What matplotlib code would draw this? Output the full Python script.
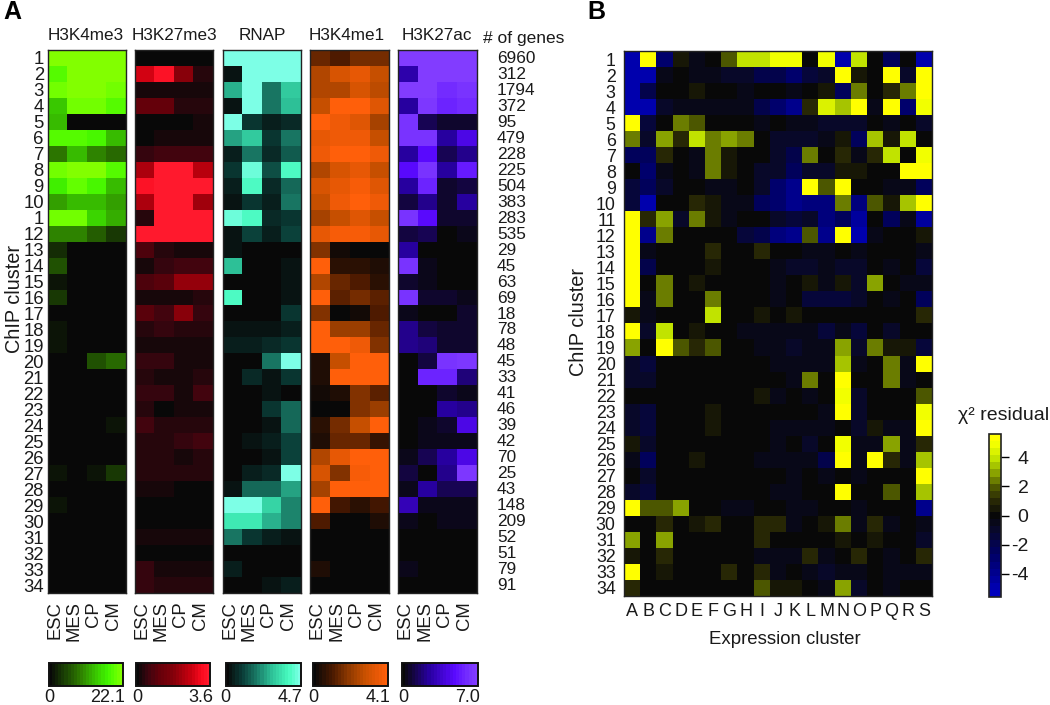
"""Histone mark heatmaps per ChIP cluster and chi-square residuals vs expression cluster."""
import numpy as np
import matplotlib
matplotlib.use('Agg')
import matplotlib.pyplot as plt
from matplotlib.colors import LinearSegmentedColormap

plt.rcParams['font.family'] = ['Liberation Sans', 'DejaVu Sans']

W, H = 1050, 705

stages = ['ESC', 'MES', 'CP', 'CM']
marks = ['H3K4me3', 'H3K27me3', 'RNAP', 'H3K4me1', 'H3K27ac']
mark_max = [22.1, 3.6, 4.7, 4.1, 7.0]
mark_max_labels = ['22.1', '3.6', '4.7', '4.1', '7.0']

# the reference really prints "1" on the 11th row of panel A
row_labels_a = [str(i) for i in range(1, 35)]
row_labels_a[10] = '1'
row_labels_b = [str(i) for i in range(1, 35)]
expr_labels = list('ABCDEFGHIJKLMNOPQRS')

n_genes = [6960, 312, 1794, 372, 95, 479, 228, 225, 504, 383, 283, 535, 29, 45, 63, 69, 18,
           78, 48, 45, 33, 41, 46, 39, 42, 70, 25, 43, 148, 209, 52, 51, 79, 91]

h3k4me3 = [
    [10, 10, 10, 10], [8.5, 10, 10, 10], [9.5, 10, 10, 9.5], [6.5, 9.5, 9.5, 8.5],
    [6, .3, .3, .1], [8.5, 8.5, 8, 6], [4, 6, 4.5, 3.5], [9.5, 10, 10, 8.5],
    [7.5, 9, 8, 6], [5, 6, 6, 5], [9.5, 9.5, 7, 5.5], [4.5, 4.5, 3, 2],
    [1.3, 0, 0, 0], [2.5, 0, 0, 0], [.5, 0, 0, 0], [2, 0, 0, 0],
    [.2, 0, 0, 0], [.7, 0, 0, 0], [.6, 0, 0, 0], [0, 0, 2.5, 3.5],
    [0, .2, .2, .2], [0, 0, 0, 0], [0, 0, 0, .2], [0, 0, 0, .5],
    [0, 0, 0, 0], [.3, 0, .4, .4], [.5, 0, .5, 2], [0, 0, .2, .2],
    [.5, 0, 0, 0], [0, 0, 0, 0], [0, 0, 0, 0], [0, 0, 0, 0],
    [.2, 0, 0, 0], [0, 0, 0, 0]]
h3k27me3 = [
    [.4, .4, .4, .4], [7.5, 9.5, 5, 1.2], [.5, .7, .5, .7], [3, 3, 1.2, 1.2],
    [.3, .3, .3, .5], [.4, .7, .7, .7], [1.5, 2, 2, 2], [6.5, 10, 10, 7],
    [9.5, 10, 10, 10], [6.5, 10, 10, 6], [1.2, 10, 10, 10], [10, 10, 10, 10],
    [2.2, 1.2, .6, .6], [.6, 1.5, 2, 2], [2.2, 2.8, 5.5, 5.5], [.6, .6, .6, .9],
    [2.7, 2, 5, 1.5], [1, 1.3, 1, 1], [.6, .6, .5, .8], [1.5, 1.3, .6, .5],
    [1.2, .6, .6, 1], [1.5, 1.5, .8, 1.8], [1.2, .4, .8, .8], [1.7, .9, .9, .9],
    [1.1, .9, 1.4, 1.8], [1.1, .9, .6, .9], [1.1, 1.1, .9, .9], [.6, .6, .4, .4],
    [.4, .4, .4, .4], [.4, .4, .4, .4], [.8, .6, .6, .6], [0, 0, 0, 0],
    [1.6, .8, .8, .8], [1.4, 1.1, .9, 1.1]]
rnap = [
    [10, 10, 10, 10], [.8, 10, 10, 10], [5.5, 10, 4, 6.5], [.8, 10, 4, 6],
    [10, 2, 1, 1.5], [5, 6.5, 2, 4], [1, 4, 1.5, 3], [2, 9.5, 2.5, 8.5],
    [1, 8.5, 1.5, 3.5], [.6, 2, 1.2, 4], [9.5, 8.5, 1.5, 2], [.6, 2.2, 1, 2.2],
    [.8, .2, .3, .1], [6, .3, .4, .5], [.2, .4, .4, .7], [8.5, .2, .4, .6],
    [.2, .4, .4, 2], [.6, .6, .6, .9], [1, 1, 1.6, 2], [0, .2, 4, 10],
    [0, 1.5, .8, 2], [0, .2, .7, .3], [0, .2, 1.8, 3.5], [0, .2, .5, 3.5],
    [0, .7, 1, 2.2], [.2, .2, .8, 2.2], [.2, .9, 1.5, 10], [.7, 3.5, 3.5, 5],
    [10, 10, 7, 4.5], [7.5, 7.5, 5.5, 4.2], [3.8, 1.8, 1, .5], [0, 0, 0, .2],
    [1, .2, .4, .4], [0, .2, .5, 1]]
h3k4me1 = [
    [3.5, 2.5, 4, 3.8], [6, 7.5, 8.5, 7], [6, 6, 7.5, 6.5], [7, 10, 10, 8],
    [10, 9, 8, 5.5], [8.5, 9, 9, 7], [9, 10, 10, 9], [6, 7.5, 8.5, 7],
    [7.5, 8.5, 9.5, 8], [7, 9, 10, 9], [5.5, 7, 8, 7], [8.5, 9.5, 9.5, 8.5],
    [4.5, .5, .3, .2], [10, 1.5, 1.5, .9], [6, 3.5, 2.5, 1.4], [10, 3, 4, 3],
    [4.5, .2, .7, 2.5], [10, 5, 5, 3.5], [10, 10, 9, 4.5], [1, 7, 10, 10],
    [1, 10, 10, 10], [.8, 1, 4.5, 3], [.2, .2, 4.5, 5], [1.5, 4, 7, 10],
    [1, 3.5, 3.5, 2], [6, 8.5, 10, 10], [7.5, 4.5, 9.5, 10], [5.5, 10, 10, 10],
    [10, 2.2, 1.5, 2.2], [2.5, .3, .4, 1], [.3, 0, 0, 0], [0, 0, 0, 0],
    [1.2, 0, 0, 0], [.3, .1, .2, .2]]
h3k27ac = [
    [10, 10, 10, 10], [4, 10, 10, 10], [10, 10, 8.5, 9], [3.5, 9.5, 8, 8.5],
    [9, 2, 1, 1], [9, 9, 3.5, 6], [3.5, 7, 2, 3], [7, 9, 3.5, 7.5],
    [3.5, 8, 1, 1.5], [1.5, 3, .9, 3.5], [9, 7, 1, 1], [1.5, 2, .3, .6],
    [3.5, .3, .3, .2], [9, .6, .4, .4], [1, .6, .4, .4], [9, 1, 1, .6],
    [.5, .3, .3, 1], [3, 1.5, 1, 1], [3, 2.5, 1.2, 1], [.3, 1.5, 9, 9.5],
    [.1, 8, 8, 2.5], [.2, .3, 1, .6], [.1, .1, 3.5, 3], [.3, .6, 1, 6],
    [.1, .6, .8, .8], [.6, 1.8, 3.5, 6], [1.5, .4, 3, 9.5], [.6, 3.5, 1.8, 2],
    [4.5, .7, .7, .7], [.7, .4, .6, .5], [.2, .2, .2, .2], [0, 0, 0, 0],
    [.7, .2, .2, .2], [.2, .2, .4, .2]]
mark_levels = [h3k4me3, h3k27me3, rnap, h3k4me1, h3k27ac]

residuals = [
    [-5, 5.5, -3, .6, -.4, -.2, 2, 4, 4, 5, 5, .1, 5, -5, 4, .1, -2.5, .1, -5],
    [-5, -5, -.4, 0, -.4, -.4, -.8, -.8, -2, -2, -3, -1.5, -1, 5.5, .6, 0, 5.5, -1, 5.5],
    [-5, -2, 0, -.1, .5, 0, 0, -.3, 0, 0, -.3, -.1, .5, -2.5, 2.5, 0, 1.2, 2.5, 5.5],
    [-5, -5, -1, -.3, -.3, -.6, -.6, -.6, -2, -3, -4, 1.2, 4.5, 3.5, 5.2, -.3, 5.5, -3, 4.8],
    [5.5, -1.5, 0, 2.5, 2, -.2, 0, 0, -.3, -.1, -.3, -.3, -1, -1, -1, 0, -.5, 0, -1],
    [2.5, -.8, 3, 1.2, 3.8, 2.5, 3, 2.5, 0, -.8, -.8, -.8, -.3, .6, -2.5, 3.5, .6, 4, 0],
    [-2.5, -2.5, 1.2, -.1, -.4, 2.5, .6, -.2, 0, -1, -2, 2.5, 0, 1, -.4, 1.2, 4, 0, 4.8],
    [0, -3, -.3, 0, -.4, 2.5, .6, -.1, -1, -1, -2.5, -1.2, -1.2, .6, .6, 0, -.1, 5.5, 5.5],
    [-1.5, -2.5, -.8, 0, 0, -.4, -.4, 0, -1, -3, -4, 5.5, 2, 5.5, 0, 0, -.4, -.4, -2.5],
    [-1.5, -5, 0, 0, 1.2, .6, -.5, -.4, -2.5, -3, -4, -3.5, -3.5, 2.5, -3.5, 2, .6, 3.5, 5.5],
    [5.5, 1.2, 3, -.8, 2.5, .6, -.5, -.1, 0, -.8, -1.5, -.8, -3.5, -2.5, -4.5, -.1, -2.5, -.4, -4.5],
    [5.5, -4, 2.5, 0, 0, 0, -.2, -1.5, -2, -3.5, -4, 2, -4, 5.5, -5, -.5, -.1, -.1, .6],
    [5.5, -.6, -.1, 0, 0, 1.2, 0, -.1, 1.2, 0, 0, -.3, -.3, -.1, -.3, 0, -.2, -.2, -.4],
    [5.5, -2, 0, 0, 0, .5, -.1, -.1, -.1, -.5, -.8, -.8, -.6, -.8, -.8, -.1, -.4, 0, -1.5],
    [5.5, 0, 2.5, 0, .5, 0, -.2, -.2, 0, -.3, -.2, .5, -.6, .5, -.8, 3, 0, -.4, -.4],
    [5.5, -.3, 2.5, -.2, -.2, 2.5, -.1, -.1, -.1, -.3, -.1, -1.5, -1.5, -1.5, -.8, -.1, -.4, -.1, -2.5],
    [.6, -.3, 0, 0, 0, 4, 0, 0, .5, -.1, .5, 0, 0, 0, -.2, 0, -.1, -.1, 1.2],
    [5.5, -.8, 4, -.1, .6, -.1, -.2, -.3, -.5, -.5, -.5, -.5, -1.5, -.4, -1.5, -.1, -.8, 0, 0],
    [3, 0, 5.5, 2, 1.2, 2, -.1, -.1, -.4, -.4, -.8, -.5, -.5, 3, -1, 2.5, .6, .6, -1.5],
    [-.8, -1.5, 0, 0, 0, -.1, -.1, -.1, -.1, -.3, -.6, -.6, -.6, 3.5, -.6, -.1, 2.5, -.4, 5.5],
    [-.8, -.8, 0, 0, 0, 0, 0, -.1, -.1, 0, -.3, 2.5, 0, 5.5, 0, -.1, 2.5, -.4, -.1],
    [0, 0, 0, 0, 0, 0, -.1, -.1, .5, -.4, -.1, -.3, -.1, 5, -.8, -.1, 0, 0, 2],
    [-.8, -1.5, 0, 0, 0, .5, -.1, -.1, -.1, -.1, -.1, -.2, -.6, 5.5, -.8, -.1, 0, 0, 5],
    [-.8, -1.5, 0, 0, 0, .5, -.1, -.1, -.1, -.3, -.3, -.3, -.3, 0, -.8, .5, -.4, -.4, 5.3],
    [.5, -.8, 0, 0, 0, -.1, -.1, -.1, 0, -.3, -.1, -.8, 0, 5, -.4, -.3, 3, -.4, 1.2],
    [-.5, -2.5, -.1, -.2, .5, -.1, -.1, -.1, -.4, -.3, -.7, -.4, -2, 5.3, -.4, 5.5, 1.2, -.4, 3.5],
    [-.1, -.8, -.1, 0, 0, 0, 0, 0, -.1, -.1, -.3, -.1, -.4, 0, -.4, 0, -.1, 0, 5.3],
    [-.8, -1.5, -.1, 0, 0, -.1, -.1, -.1, -.1, -.3, -.3, -.1, -.1, 5.5, 0, -.1, 2, 0, 3.5],
    [5.5, 2, 2, 3, 0, 0, -.5, -.5, 0, 0, -.7, -.7, -.1, 0, -.4, 0, -.1, -.1, -4],
    [-.1, 0, 1.2, -.2, .6, 1.2, 0, 0, 1.2, 1.2, -.4, -.1, .6, 2.5, -.6, 1.2, -.6, 0, -.6],
    [3, 0, 3, 0, -.2, -.2, -.2, -.2, 1.2, -.2, -.2, 0, 0, .6, 0, .6, -.1, -.1, -.8],
    [.6, 0, 1.2, 0, 0, -.1, -.2, -.2, -.4, -.4, -.4, 1.2, -.4, 0, 1.2, -.2, -.4, 0, 1.2],
    [5.5, 0, .6, -.2, -.2, -.1, 1.2, 0, 1.2, -.6, 0, -.4, -.8, -.6, -.6, -.2, -.7, -.7, -.7],
    [1.2, 0, 0, -.2, -.2, -.2, -.2, 0, 2, .6, .6, -.1, -.5, 3, -1.2, -.1, -.3, -.2, 0],
]
residual_ticks = [4, 2, 0, -2, -4]


def px_axes(fig, x0, y0, x1, y1):
    """Add axes from pixel corners, y counted from the top."""
    return fig.add_axes([x0 / W, 1 - y1 / H, (x1 - x0) / W, (y1 - y0) / H])


def px_text(fig, x, y, s, **kw):
    kw.setdefault('va', 'center')
    return fig.text(x / W, 1 - y / H, s, **kw)


def rgb_map(name, nodes, n=24):
    """Colormap from (position, (r, g, b)) nodes in 0-255."""
    cols = [(p, tuple(c / 255 for c in rgb)) for p, rgb in nodes]
    return LinearSegmentedColormap.from_list(name, cols, N=n)


BASE = (8, 8, 8)
cmaps = [
    rgb_map('green', [(0, BASE), (.4, (45, 120, 0)), (.6, (55, 185, 0)), (.8, (65, 245, 0)),
                      (.9, (95, 255, 0)), (1, (130, 255, 0))]),
    rgb_map('red', [(0, BASE), (.15, (60, 5, 15)), (.3, (100, 0, 10)), (.5, (130, 0, 10)),
                    (.75, (200, 0, 15)), (.9, (250, 10, 30)), (1, (255, 25, 45))]),
    rgb_map('teal', [(0, BASE), (.2, (10, 60, 55)), (.4, (25, 120, 100)), (.6, (45, 190, 150)),
                     (.85, (70, 250, 190)), (1, (125, 255, 230))]),
    rgb_map('orange', [(0, BASE), (.25, (75, 25, 0)), (.5, (150, 60, 0)), (.7, (200, 80, 0)),
                       (1, (255, 95, 10))]),
    rgb_map('purple', [(0, BASE), (.35, (40, 0, 160)), (.7, (90, 10, 255)), (.9, (120, 50, 255)),
                       (1, (130, 60, 255))]),
]
residual_cmap = rgb_map('residual', [
    (0, (0, 0, 190)), (.25, (0, 0, 100)), (.4, (8, 8, 45)), (.5, BASE), (.607, (45, 45, 5)),
    (.679, (75, 85, 0)), (.768, (135, 160, 0)), (.857, (190, 225, 0)), (.946, (240, 255, 0)),
    (1, (255, 255, 0))], n=23)

# pixel boxes of panel A
panel_x = [(48, 126), (135, 213), (223, 301), (310, 389), (398, 477)]
bar_x = [(49, 123), (136, 210), (226, 301), (313, 388), (402, 478)]
title_x = [86, 174, 262, 347, 437]
zero_x = [49, 137, 225, 313, 403]
max_x = [125, 213, 302, 390, 480]

fig = plt.figure(figsize=(W / 100, H / 100), dpi=100)
ink = '#1a1a1a'

px_text(fig, 3, 12, 'A', fontsize=18, fontweight='bold', color='black')
px_text(fig, 587, 12, 'B', fontsize=18, fontweight='bold', color='black')

for i, levels in enumerate(mark_levels):
    x0, x1 = panel_x[i]
    ax = px_axes(fig, x0, 50, x1, 593)
    vals = np.array(levels) / 10 * mark_max[i]
    im = ax.imshow(vals, cmap=cmaps[i], vmin=0, vmax=mark_max[i], aspect='auto',
                   interpolation='nearest')
    ax.set_xticks(np.arange(4) - 0.15)
    ax.set_xticklabels(stages, rotation=90, fontsize=13.3, color=ink)
    ax.tick_params(axis='x', length=0, pad=6)
    if i == 0:
        ax.set_yticks(np.arange(34))
        ax.set_yticklabels(row_labels_a, fontsize=13.3, color=ink)
        ax.tick_params(axis='y', length=0, pad=3)
    else:
        ax.set_yticks([])
    for sp in ax.spines.values():
        sp.set_linewidth(1.0)
        sp.set_color('#222222')
    px_text(fig, title_x[i], 35, marks[i], ha='center', fontsize=12.3, color=ink)

    # colorbar under the panel
    bx0, bx1 = bar_x[i]
    cax = px_axes(fig, bx0, 663, bx1, 686)
    cb = fig.colorbar(im, cax=cax, orientation='horizontal')
    cb.set_ticks([])
    cb.outline.set_linewidth(1.4)
    cb.outline.set_edgecolor('#111111')
    px_text(fig, zero_x[i], 698, '0', ha='center', fontsize=13, color=ink)
    px_text(fig, max_x[i], 698, mark_max_labels[i], ha='right', fontsize=13, color=ink)

px_text(fig, 15, 299, 'ChIP cluster', rotation=90, ha='center', fontsize=14.3, color=ink)
px_text(fig, 483, 38, '# of genes', ha='left', fontsize=12.5, color=ink)
for r, n in enumerate(n_genes):
    px_text(fig, 497, 58.5 + r * 15.97, str(n), ha='left', fontsize=12.4, color=ink)

# panel B
ax_b = px_axes(fig, 624, 51, 932, 596)
im_b = ax_b.imshow(np.array(residuals), cmap=residual_cmap, vmin=-5.6, vmax=5.6, aspect='auto',
                   interpolation='nearest')
ax_b.set_xticks(np.arange(19))
ax_b.set_xticklabels(expr_labels, fontsize=13, color=ink)
ax_b.set_yticks(np.arange(34))
ax_b.set_yticklabels(row_labels_b, fontsize=12.8, color=ink)
ax_b.tick_params(length=0, pad=5)
ax_b.tick_params(axis='y', pad=6)
for sp in ax_b.spines.values():
    sp.set_linewidth(1.0)
    sp.set_color('#222222')
px_text(fig, 578, 322, 'ChIP cluster', rotation=90, ha='center', fontsize=14.3, color=ink)
px_text(fig, 785, 640, 'Expression cluster', ha='center', fontsize=13.4, color=ink)

cax_b = px_axes(fig, 989, 434, 1001, 597)
cb_b = fig.colorbar(im_b, cax=cax_b, orientation='vertical')
cb_b.set_ticks(residual_ticks)
cb_b.set_ticklabels([str(t) for t in residual_ticks])
cb_b.ax.tick_params(length=5.8, width=1.0, pad=14, labelsize=14, labelcolor=ink)
for lab in cb_b.ax.get_yticklabels():
    lab.set_horizontalalignment('right')
cb_b.outline.set_linewidth(1.2)
cb_b.outline.set_edgecolor('#222222')
px_text(fig, 958, 415, 'χ² residual', ha='left', fontsize=14, color=ink)

fig.savefig('out.png', dpi=100)
